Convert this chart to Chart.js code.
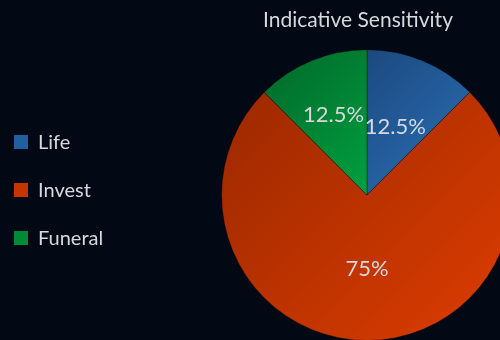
<!DOCTYPE html>
<html>
<head>
<meta charset="utf-8">
<script src="https://cdn.jsdelivr.net/npm/chart.js@4"></script>
<style>
  html, body { margin: 0; padding: 0; background: #030914; overflow: hidden; width: 500px; height: 340px; }
  #wrap { position: absolute; left: -14px; top: 0; width: 602px; height: 341px; }
</style>
</head>
<body>
<div id="wrap"><canvas id="myChart"></canvas></div>
<script>
const labels = ['Life', 'Invest', 'Funeral'];
const shares = [12.5, 75, 12.5];   // percent of the pie
const title = 'Indicative Sensitivity';

// gradient stops per slice, top-left -> bottom-right of the pie
const shades = [
  [[0.2, '#1a4476'], [0.55, '#2665a8']],
  [[0.0, '#962700'], [1.0, '#de3d00']],
  [[0.1, '#006a2a'], [0.5, '#00a040']]
];
const solid = ['#2060a0', '#c83400', '#008a38'];
const textColor = '#d6d9dd';
const labelRadius = [0.51, 0.51, 0.6];   // label distance from centre, share of radius

function sliceFill(context) {
  const chart = context.chart;
  const area = chart.chartArea;
  const i = context.dataIndex;
  if (!area) return solid[i];
  const cx = (area.left + area.right) / 2, cy = (area.top + area.bottom) / 2;
  const r = Math.min(area.right - area.left, area.bottom - area.top) / 2;
  const g = chart.ctx.createLinearGradient(cx - r, cy - r, cx + r, cy + r);
  shades[i].forEach(s => g.addColorStop(s[0], s[1]));
  return g;
}

// fixed legend width so the pie sits where it should, then nudge title/legend
const layoutTweaks = {
  id: 'layoutTweaks',
  beforeLayout(chart) {
    const lg = chart.legend;
    if (lg && !lg._fixed) {
      const fit = lg.fit;
      lg.fit = function () { fit.call(this); this.width = 160; };
      lg._fixed = true;
    }
  },
  afterLayout(chart) {
    const t = chart.titleBlock;
    if (t) { t.left -= 9; t.right -= 9; }
    const lg = chart.legend;
    if (lg) { lg.top -= 5; lg.bottom -= 5; }
  }
};

const sliceLabels = {
  id: 'sliceLabels',
  afterDatasetsDraw(chart) {
    const ctx = chart.ctx;
    const meta = chart.getDatasetMeta(0);
    ctx.save();
    ctx.font = '22px Lato';
    ctx.fillStyle = textColor;
    ctx.textAlign = 'center';
    ctx.textBaseline = 'middle';
    meta.data.forEach((arc, i) => {
      const p = arc.getProps(['x', 'y', 'startAngle', 'endAngle', 'outerRadius'], true);
      const mid = (p.startAngle + p.endAngle) / 2;
      const r = p.outerRadius * labelRadius[i];
      ctx.fillText(shares[i] + '%', p.x + Math.cos(mid) * r, p.y + Math.sin(mid) * r);
    });
    ctx.restore();
  }
};

const ctx = document.getElementById('myChart');
new Chart(ctx, {
  type: 'pie',
  data: {
    labels: labels,
    datasets: [{
      data: shares,
      backgroundColor: sliceFill,
      borderColor: 'rgba(0,0,0,0.35)',
      borderWidth: 1
    }]
  },
  options: {
    responsive: true,
    maintainAspectRatio: false,
    devicePixelRatio: 1,
    animation: false,
    layout: { padding: 0 },
    plugins: {
      title: {
        display: true,
        text: title,
        fullSize: false,
        color: textColor,
        font: { family: 'Lato', size: 21, weight: 'normal' },
        padding: { top: 8, bottom: 16 }
      },
      legend: {
        position: 'left',
        fullSize: false,
        labels: {
          color: textColor,
          font: { family: 'Lato', size: 20 },
          boxWidth: 14,
          boxHeight: 14,
          padding: 28,
          generateLabels(chart) {
            return labels.map((l, i) => ({
              text: l,
              fillStyle: solid[i],
              strokeStyle: solid[i],
              lineWidth: 0,
              fontColor: textColor,
              index: i
            }));
          }
        }
      },
      tooltip: { enabled: false }
    }
  },
  plugins: [layoutTweaks, sliceLabels]
});
</script>
</body>
</html>
